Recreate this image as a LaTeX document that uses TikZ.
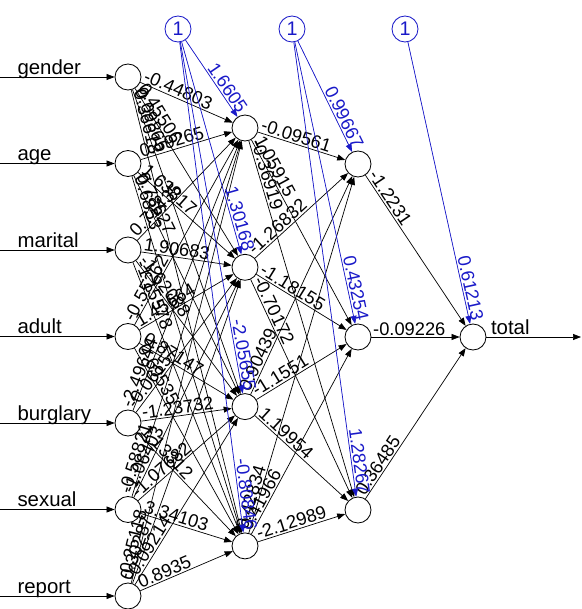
\documentclass[tikz,border=0pt]{standalone}
\usepackage{fontspec}
\setmainfont{Liberation Sans}
\usepackage{tikz}
\usetikzlibrary{arrows.meta}
\definecolor{biasblue}{RGB}{25,25,200}
\tikzset{
  neuron/.style={circle,draw,line width=0.6pt,minimum size=0.65cm,inner sep=0pt},
  biasnode/.style={neuron,draw=biasblue,text=biasblue,font=\fontsize{14}{14}\selectfont},
  wline/.style={line width=0.5pt,-{Triangle[length=2mm,width=1.5mm]}},
  bline/.style={wline,draw=biasblue,fill=biasblue},
  wlab/.style={sloped,inner sep=1pt,font=\fontsize{13}{13}\selectfont},
  inlab/.style={anchor=base west,inner sep=0pt,yshift=2pt,font=\fontsize{14.5}{14.5}\selectfont}
}
\begin{document}
\begin{tikzpicture}[x=0.025cm,y=-0.025cm]
\useasboundingbox (0,0) rectangle (581,609);

% input layer
\foreach \nm [count=\i] in {gender,age,marital,adult,burglary,sexual,report} {
  \node[neuron] (i\i) at (128,{77+86.5*(\i-1)}) {};
  \coordinate (s\i) at (0,{77+86.5*(\i-1)});
  \draw[wline] (s\i) -- (i\i) node[inlab,pos=0.15] {\nm};
}

% hidden layers, output, bias
\foreach \j in {1,...,4}
  \node[neuron] (h\j) at (245,{128+139.3*(\j-1)}) {};
\foreach \k in {1,2,3}
  \node[neuron] (g\k) at (358,{164+173*(\k-1)}) {};
\node[neuron] (o) at (473,337) {};
\coordinate (e) at (581,337);
\node[biasnode] (b1) at (178,29) {1};
\node[biasnode] (b2) at (292,29) {1};
\node[biasnode] (b3) at (405,29) {1};

% input -> hidden 1
\foreach \i/\j/\w in {1/1/-0.44803,1/2/0.45506,1/3/0.09865,1/4/0.36618,
    2/1/0.59265,2/2/1.63817,2/3/0.78627,2/4/0.6853,
    3/1/0.71435,3/2/1.90683,3/3/-1.62088,3/4/-1.15578,
    4/1/-0.55262,4/2/1.45664,4/3/0.87147,4/4/0.69535,
    5/1/-2.49644,5/2/-0.06157,5/3/-1.23732,5/4/1.13312,
    6/1/-0.58821,6/2/-1.06403,6/3/-1.07682,6/4/3.34103,
    7/1/-0.25118,7/2/0.30287,7/3/-0.09214,7/4/0.8935}
  \draw[wline] (i\i) -- (h\j) node[wlab,pos=0,anchor=south west] {\w};

% hidden 1 -> hidden 2
\foreach \j/\k/\w in {1/1/-0.09561,1/2/1.05915,1/3/-0.36919,
    2/1/-1.26832,2/2/-1.18155,2/3/-0.70172,
    3/1/0.90439,3/2/-1.1551,3/3/1.19954,
    4/1/0.42834,4/2/0.41966,4/3/-2.12989}
  \draw[wline] (h\j) -- (g\k) node[wlab,pos=0,anchor=south west] {\w};

% hidden 2 -> output
\foreach \k/\w in {1/-1.2231,2/-0.09226,3/0.36485}
  \draw[wline] (g\k) -- (o) node[wlab,pos=0,anchor=south west] {\w};
\draw[wline] (o) -- (e) node[inlab,pos=0,xshift=3pt] {total};

% bias weights
\foreach \j/\w in {1/1.6605,2/1.30168,3/-2.05655,4/-0.80846}
  \draw[bline] (b1) -- (h\j) node[wlab,pos=1,anchor=south east,text=biasblue] {\w};
\foreach \k/\w in {1/0.99667,2/0.43254,3/1.28267}
  \draw[bline] (b2) -- (g\k) node[wlab,pos=1,anchor=south east,text=biasblue] {\w};
\draw[bline] (b3) -- (o) node[wlab,pos=1,anchor=south east,text=biasblue] {0.61213};
\end{tikzpicture}
\end{document}
